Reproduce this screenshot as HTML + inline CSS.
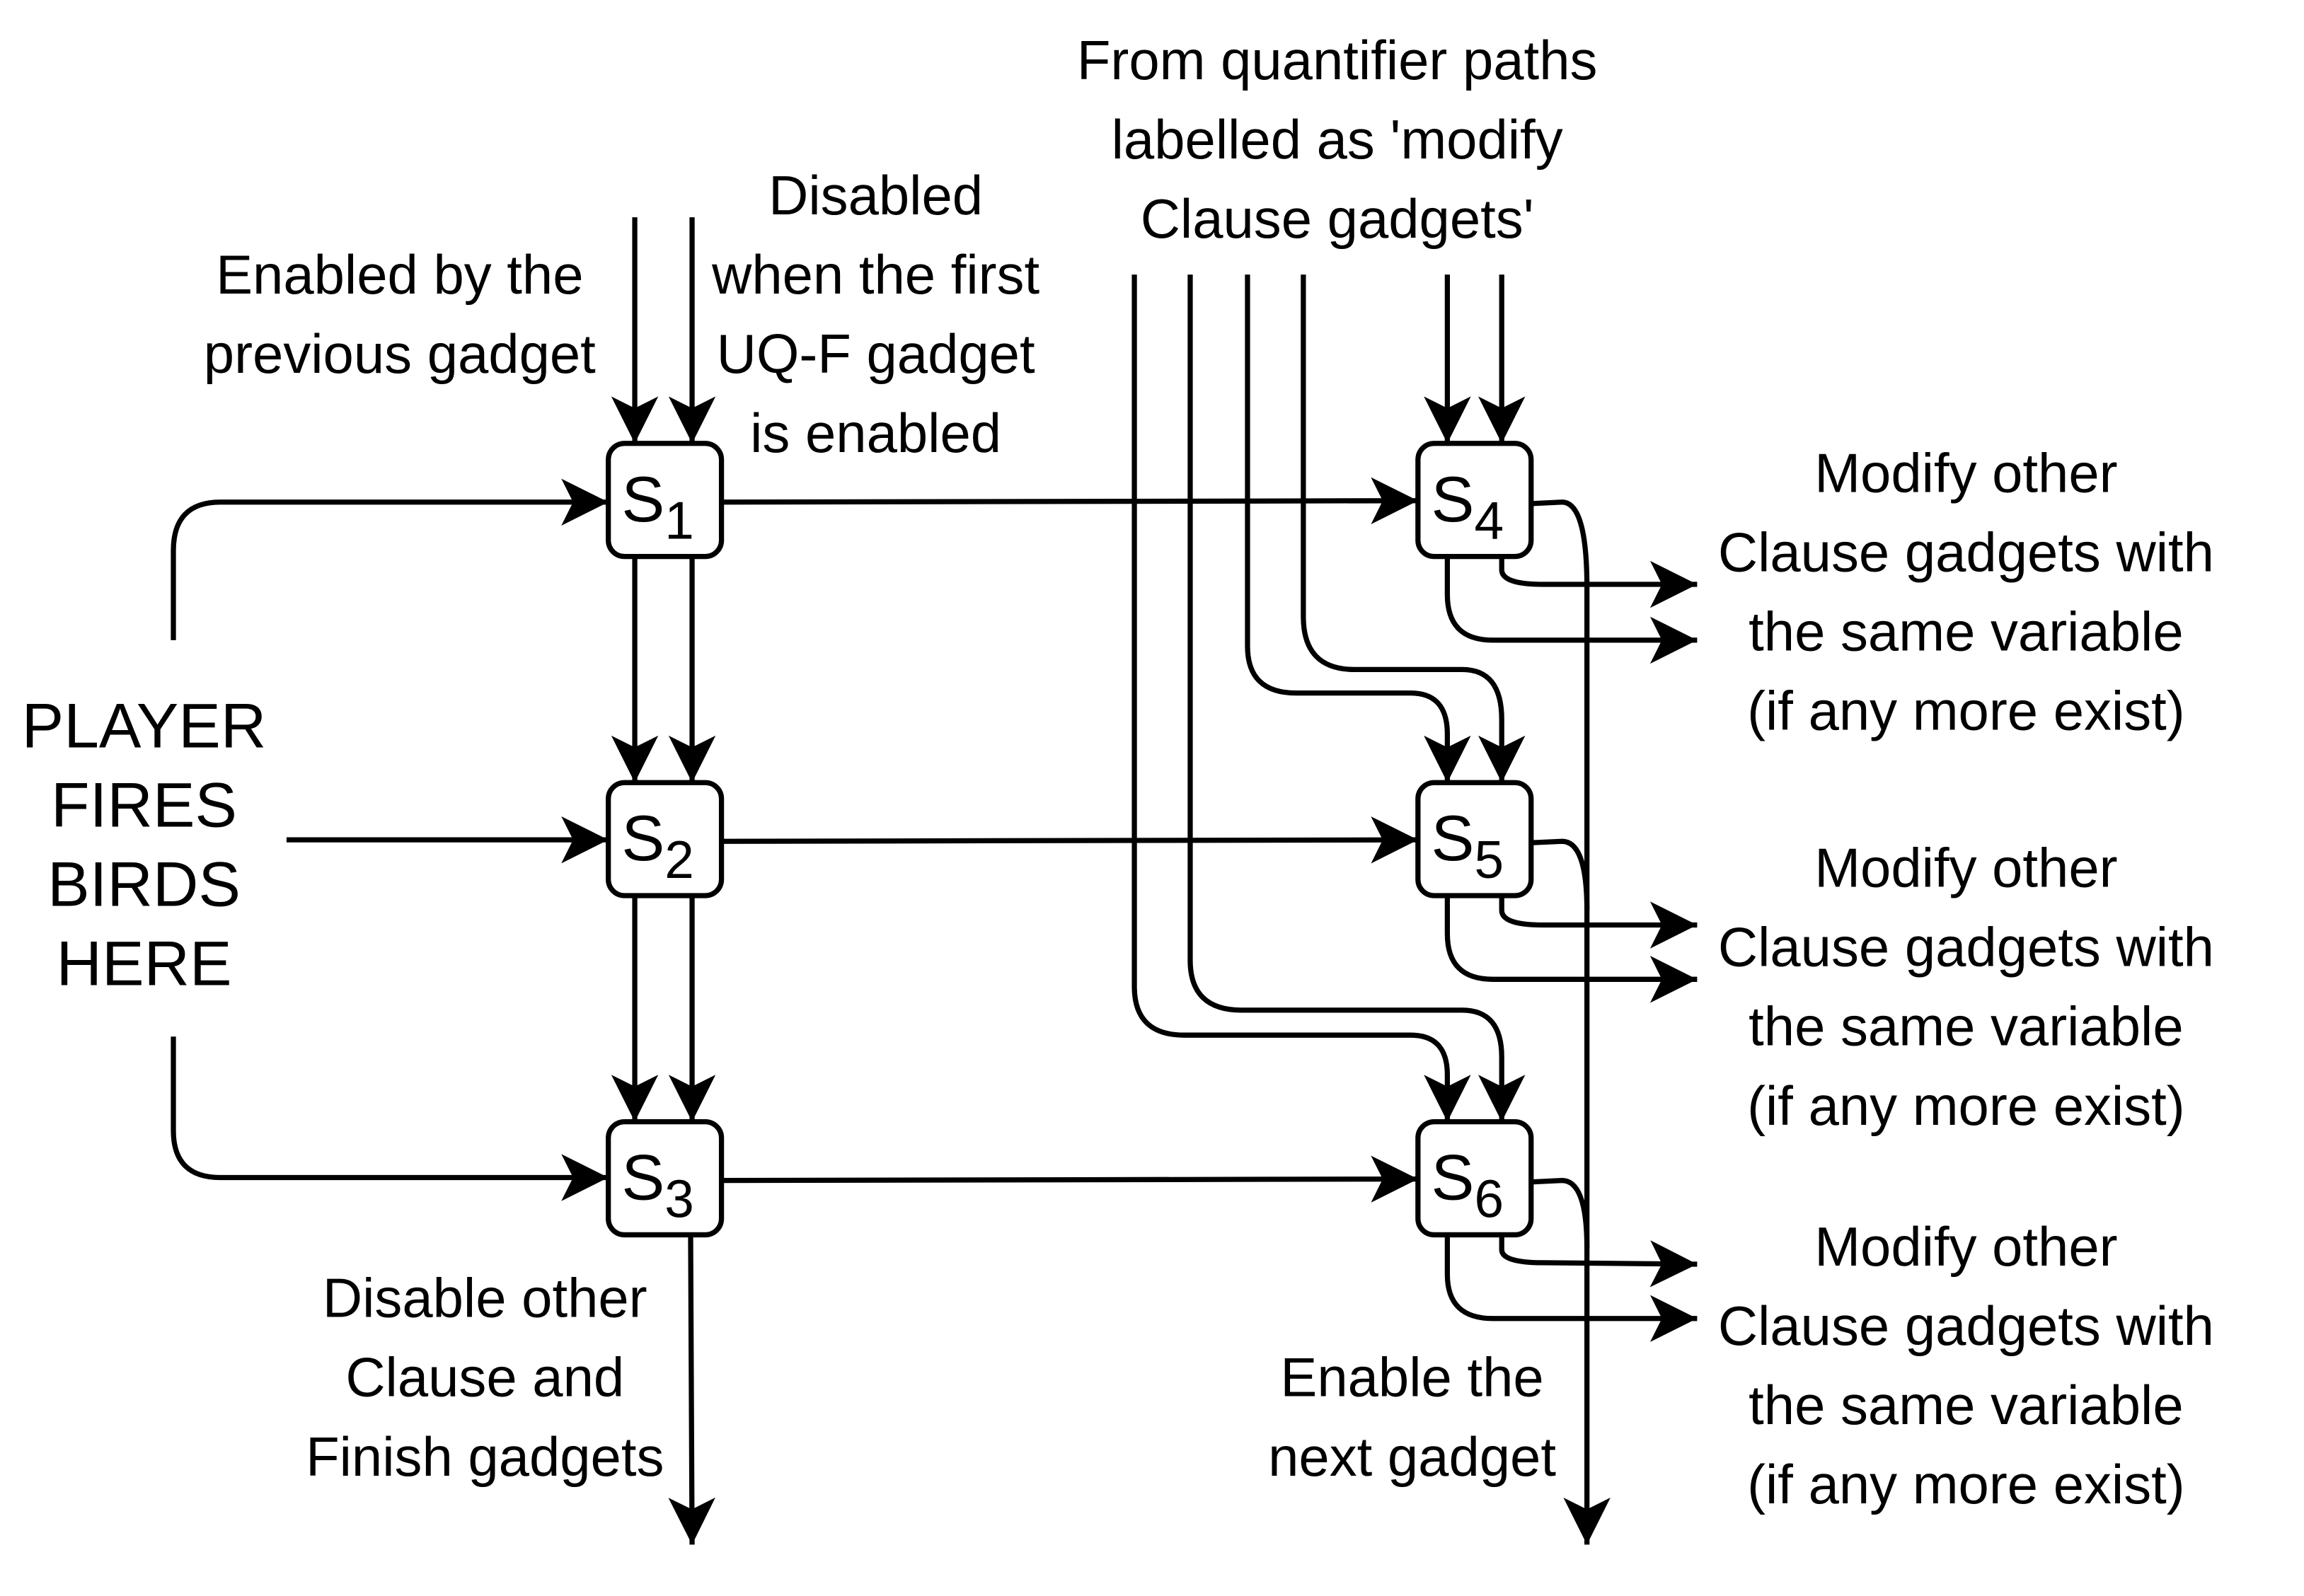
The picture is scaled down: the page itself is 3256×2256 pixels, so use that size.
<!DOCTYPE html>
<html><head><meta charset="utf-8"><style>
html,body{margin:0;padding:0;background:#fff;}
svg{display:block;}
text{font-family:"Liberation Sans",Arial,sans-serif;fill:#000;}
</style></head><body>
<svg width="3256" height="2256" viewBox="0 0 1568 1087" preserveAspectRatio="none" xmlns="http://www.w3.org/2000/svg">
<defs>
<marker id="a" markerUnits="userSpaceOnUse" markerWidth="40" markerHeight="34" refX="32" refY="16" orient="auto">
<path d="M0,0 L32,16 L0,32 L8,16 Z" fill="#000"/>
</marker>
</defs>
<g fill="none" stroke="#000" stroke-width="3.5" marker-end="url(#a)">
<path d="M432,148 L432,302"/>
<path d="M471,148 L471,302"/>
<path d="M432,379 L432,533"/>
<path d="M471,379 L471,533"/>
<path d="M432,610 L432,764"/>
<path d="M471,610 L471,764"/>
<path d="M118,436 L118,375 Q118,342 150,342 L414,342"/>
<path d="M195,572 L414,572"/>
<path d="M118,706 L118,770 Q118,802 150,802 L414,802"/>
<path d="M491,342 L965,341"/>
<path d="M491,573 L965,572"/>
<path d="M491,804 L965,803"/>
<path d="M985,187 L985,302"/>
<path d="M1022,187 L1022,302"/>
<path d="M887,187 L887,420 Q887,456 922,456 L995,456 Q1022,456 1022,490 L1022,533"/>
<path d="M849,187 L849,440 Q849,472 882,472 L960,472 Q985,472 985,500 L985,533"/>
<path d="M810,187 L810,654 Q810,688 845,688 L995,688 Q1022,688 1022,720 L1022,764"/>
<path d="M772,187 L772,672 Q772,705 806,705 L960,705 Q985,705 985,732 L985,764"/>
<path d="M470,841 L471,1052"/>
<path d="M1042,343 L1063,342 Q1080,342 1080,400 L1080,1052"/>
<path d="M1022,379 L1022,388 Q1022,398 1050,398 L1155,398"/>
<path d="M985,379 L985,405 Q985,436 1016,436 L1155,436"/>
<path d="M1022,610 L1022,620 Q1022,630 1050,630 L1155,630"/>
<path d="M985,610 L985,636 Q985,667 1016,667 L1155,667"/>
<path d="M1022,841 L1022,851 Q1022,860 1050,860 L1155,861"/>
<path d="M985,841 L985,868 Q985,898 1016,898 L1155,898"/>
</g>
<g fill="none" stroke="#000" stroke-width="3.5">
<path d="M1042,574 L1063,573 Q1080,573 1080,620"/>
<path d="M1042,805 L1063,804 Q1080,804 1080,850"/>
</g>
<g fill="#fff" stroke="#000" stroke-width="3.5">
<rect x="414" y="302" width="77" height="77" rx="11"/>
<rect x="414" y="533" width="77" height="77" rx="11"/>
<rect x="414" y="764" width="77" height="77" rx="11"/>
<rect x="965" y="302" width="77" height="77" rx="11"/>
<rect x="965" y="533" width="77" height="77" rx="11"/>
<rect x="965" y="764" width="77" height="77" rx="11"/>
</g>
<g font-size="44">
<text x="423" y="355">S<tspan font-size="36" dy="12">1</tspan></text>
<text x="423" y="586">S<tspan font-size="36" dy="12">2</tspan></text>
<text x="423" y="817">S<tspan font-size="36" dy="12">3</tspan></text>
<text x="974" y="355">S<tspan font-size="36" dy="12">4</tspan></text>
<text x="974" y="586">S<tspan font-size="36" dy="12">5</tspan></text>
<text x="974" y="817">S<tspan font-size="36" dy="12">6</tspan></text>
</g>
<g font-size="37.5" text-anchor="middle">
<text x="910" y="54">From quantifier paths</text>
<text x="910" y="108">labelled as 'modify</text>
<text x="910" y="162">Clause gadgets'</text>
<text x="272" y="200">Enabled by the</text>
<text x="272" y="254">previous gadget</text>
<text x="596" y="146">Disabled</text>
<text x="596" y="200">when the first</text>
<text x="596" y="254">UQ-F gadget</text>
<text x="596" y="308">is enabled</text>
<text x="1338" y="335">Modify other</text>
<text x="1338" y="389">Clause gadgets with</text>
<text x="1338" y="443">the same variable</text>
<text x="1338" y="497">(if any more exist)</text>
<text x="1338" y="604">Modify other</text>
<text x="1338" y="658">Clause gadgets with</text>
<text x="1338" y="712">the same variable</text>
<text x="1338" y="766">(if any more exist)</text>
<text x="1338" y="862">Modify other</text>
<text x="1338" y="916">Clause gadgets with</text>
<text x="1338" y="970">the same variable</text>
<text x="1338" y="1024">(if any more exist)</text>
<text x="330" y="897">Disable other</text>
<text x="330" y="951">Clause and</text>
<text x="330" y="1005">Finish gadgets</text>
<text x="961" y="951">Enable the</text>
<text x="961" y="1005">next gadget</text>
</g>
<g font-size="43" text-anchor="middle">
<text x="98" y="509">PLAYER</text>
<text x="98" y="563">FIRES</text>
<text x="98" y="617">BIRDS</text>
<text x="98" y="671">HERE</text>
</g>
</svg>
</body></html>
